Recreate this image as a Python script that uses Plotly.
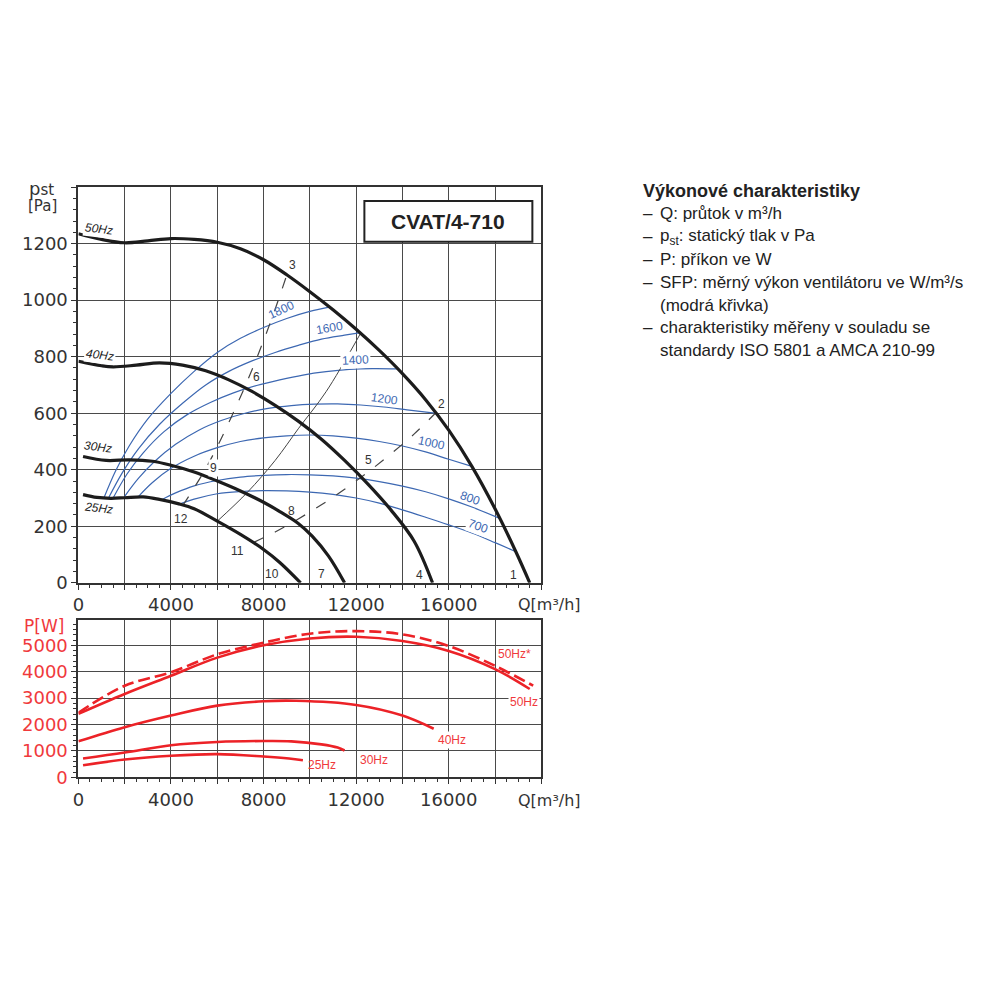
import plotly.graph_objects as go

# --- fan curves, static pressure [Pa] vs Q [m3/h] ---
q50 = [0, 1000, 2000, 3000, 4000, 5000, 6000, 7000, 8000, 9000, 10000, 11000, 12000, 13000, 14000, 15000, 16000, 17000, 18000, 18900, 19500]
p50 = [1235, 1215, 1203, 1210, 1218, 1215, 1205, 1182, 1143, 1090, 1030, 966, 897, 822, 740, 648, 540, 412, 262, 110, 0]
q40 = [0, 1000, 1500, 2500, 3500, 4500, 5500, 6500, 7500, 8500, 9500, 10500, 11500, 12500, 13500, 14500, 15300]
p40 = [784, 768, 764, 770, 778, 770, 750, 718, 677, 628, 572, 508, 433, 350, 258, 148, 0]
q30 = [200, 1200, 2200, 3200, 4000, 5000, 6000, 7000, 8000, 8700, 9500, 10100, 10800, 11500]
p30 = [447, 433, 435, 430, 416, 392, 360, 325, 285, 252, 210, 165, 95, 0]
q25 = [200, 800, 1400, 2000, 2800, 3500, 4300, 5000, 6000, 7000, 8000, 8700, 9600]
p25 = [312, 302, 299, 301, 304, 295, 280, 262, 218, 171, 118, 72, 0]
fan_names = ["50Hz", "40Hz", "30Hz", "25Hz"]

# --- SFP curves (blue) ---
sfp_q = {
    "1800": [1100, 1600, 2200, 3000, 4000, 5000, 6000, 7000, 8000, 9000, 10000, 10900],
    "1600": [1300, 1900, 2600, 3500, 4500, 5500, 6500, 7500, 8500, 9500, 10500, 11500, 12200],
    "1400": [1500, 2100, 2800, 3700, 4700, 5700, 6700, 7700, 8700, 9700, 10700, 11700, 12700, 13800],
    "1200": [2000, 2600, 3300, 4200, 5200, 6200, 7200, 8200, 9200, 10200, 11200, 12200, 13200, 14200, 15400],
    "1000": [2600, 3200, 4000, 5000, 6000, 7000, 8000, 9000, 10000, 11000, 12000, 13000, 14000, 15000, 16000, 17000],
    "800": [3600, 4200, 5000, 6000, 7000, 8000, 9000, 10000, 11000, 12000, 13000, 14000, 15000, 16000, 17000, 18200],
    "700": [4300, 5000, 6000, 7000, 8000, 9000, 10000, 11000, 12000, 13000, 14000, 15000, 16000, 17000, 18000, 18900],
}
sfp_p = {
    "1800": [300, 395, 485, 580, 670, 748, 815, 865, 903, 935, 960, 976],
    "1600": [300, 390, 475, 560, 635, 700, 748, 785, 815, 840, 862, 876, 885],
    "1400": [300, 385, 460, 535, 595, 638, 672, 698, 718, 735, 747, 755, 758, 757],
    "1200": [306, 370, 430, 490, 540, 575, 600, 617, 627, 632, 633, 629, 622, 612, 600],
    "1000": [306, 355, 405, 448, 478, 500, 513, 520, 523, 520, 512, 500, 484, 463, 437, 412],
    "800": [294, 318, 343, 362, 374, 380, 383, 382, 378, 370, 358, 342, 322, 297, 268, 228],
    "700": [276, 296, 315, 323, 326, 325, 321, 313, 300, 282, 258, 232, 205, 176, 142, 110],
}

# --- system lines (gray) ---
sysA_q = [4500, 5400, 6000, 6600, 7200, 7800, 8400, 9000]
sysA_p = [272, 390, 482, 585, 695, 815, 945, 1088]
sysB_q = [6000, 7300, 8500, 9500, 10700, 12200]
sysB_p = [218, 320, 433, 545, 676, 884]
sysC_q = [7550, 8500, 9500, 10500, 11500, 12500, 13500, 14500, 15400]
sysC_p = [142, 180, 226, 276, 331, 391, 456, 526, 598]

# --- power consumption [W] ---
P50_q = [0, 2000, 4000, 6000, 8000, 10000, 12000, 14000, 16000, 18000, 19500]
P50 = [2406, 3158, 3846, 4534, 5000, 5260, 5323, 5162, 4786, 4098, 3346]
P50s_q = [0, 2000, 4000, 6000, 8000, 10000, 12000, 14000, 16000, 18000, 19650]
P50s = [2450, 3470, 3980, 4660, 5100, 5440, 5538, 5413, 4974, 4222, 3470]
P40_q = [0, 2000, 4000, 6000, 8000, 9400, 12000, 14000, 15350]
P40 = [1365, 1902, 2343, 2718, 2882, 2900, 2744, 2342, 1842]
P30_q = [200, 2000, 4000, 6000, 8000, 9200, 10500, 11200, 11500]
P30 = [714, 940, 1215, 1340, 1378, 1365, 1250, 1130, 1020]
P25_q = [200, 2000, 4000, 6000, 8000, 9100, 9700]
P25 = [462, 677, 820, 883, 790, 714, 650]

# point numbers on the pressure chart
pt_labels = ["1", "2", "3", "4", "5", "6", "7", "8", "9", "10", "11", "12"]
pt_q = [18800, 15670, 9240, 14730, 12550, 7700, 10490, 9200, 5820, 8350, 6890, 4440]
pt_p = [27, 634, 1124, 27, 436, 729, 30, 253, 405, 30, 111, 224]

sfp_lab_q = [8760, 10830, 11950, 13230, 15260, 16900, 17260]
sfp_lab_p = [964, 902, 790, 652, 494, 300, 200]
sfp_lab_ang = [-25, -10, -3, 8, 12, 20, 20]

hz_lab_q = [900, 950, 850, 850]
hz_lab_p = [1252, 807, 481, 264]

pw_labels = ["50Hz*", "50Hz", "40Hz", "30Hz", "25Hz"]
pw_lab_q = [18830, 19240, 16140, 12780, 10530]
pw_lab_P = [4660, 2840, 1400, 650, 460]

xticks = list(range(0, 20001, 2000))
xtext = ["0", "", "4000", "", "8000", "", "12000", "", "16000", "", ""]

BLUE = "#3d68b2"
RED = "#ec2227"
RED_TXT = "#f0393c"
DARK = "#1c1c1c"
GRID = "#4a4a4a"
TICKF = dict(family="DejaVu Sans", size=18, color="#333333")

# page offset / scale of the rendered figure
OX, OY, KY = 12.5, 4.0, 0.995


def px(x):
    return (x - OX) / 1000


def py(y):
    return 1 - (y - OY) / KY / 1000


fig = go.Figure()

for name in sfp_q:
    fig.add_trace(go.Scatter(x=sfp_q[name], y=sfp_p[name], mode="lines", line_shape="spline",
                             line=dict(color=BLUE, width=1.2), xaxis="x", yaxis="y"))

fig.add_trace(go.Scatter(x=sysA_q, y=sysA_p, mode="lines", line_shape="spline",
                         line=dict(color="#444", width=1.2, dash="11px,13px")))
fig.add_trace(go.Scatter(x=sysB_q, y=sysB_p, mode="lines", line_shape="spline",
                         line=dict(color="#444", width=1)))
fig.add_trace(go.Scatter(x=sysC_q, y=sysC_p, mode="lines", line_shape="spline",
                         line=dict(color="#444", width=1.2, dash="11px,13px")))

for qq, pp in [(q50, p50), (q40, p40), (q30, p30), (q25, p25)]:
    fig.add_trace(go.Scatter(x=qq, y=pp, mode="lines", line_shape="spline",
                             line=dict(color=DARK, width=3.2)))

# power curves
for qq, pp, dash in [(P50s_q, P50s, "12px,5px"), (P50_q, P50, "solid"), (P40_q, P40, "solid"),
                     (P30_q, P30, "solid"), (P25_q, P25, "solid")]:
    fig.add_trace(go.Scatter(x=qq, y=pp, mode="lines", line_shape="spline",
                             line=dict(color=RED, width=2.6, dash=dash), xaxis="x2", yaxis="y2"))

ann = []
for t, x, y in zip(pt_labels, pt_q, pt_p):
    ann.append(dict(x=x, y=y, xref="x", yref="y", text=t, showarrow=False,
                    font=dict(family="Liberation Sans", size=12, color="#333"),
                    bgcolor="white" if t == "9" else None))
for t, x, y, a in zip(sfp_q.keys(), sfp_lab_q, sfp_lab_p, sfp_lab_ang):
    ann.append(dict(x=x, y=y, xref="x", yref="y", text=t, showarrow=False, textangle=a,
                    font=dict(family="Liberation Sans", size=12, color=BLUE),
                    bgcolor="white" if t in ("1400", "700") else None))
for t, x, y in zip(fan_names, hz_lab_q, hz_lab_p):
    ann.append(dict(x=x, y=y, xref="x", yref="y", text="<i>" + t + "</i>", showarrow=False,
                    textangle=7,
                    font=dict(family="Liberation Sans", size=12, color="#222"),
                    bgcolor="white" if t in ("50Hz", "40Hz") else None))
for t, x, y in zip(pw_labels, pw_lab_q, pw_lab_P):
    ann.append(dict(x=x, y=y, xref="x2", yref="y2", text=t, showarrow=False,
                    font=dict(family="Liberation Sans", size=12, color=RED_TXT),
                    bgcolor="white" if t in ("50Hz", "40Hz") else None))

# axis titles
ann.append(dict(x=px(26), y=py(185), xref="paper", yref="paper", text="p<span style='font-size:15px'>st</span>",
                showarrow=False, xanchor="left", yanchor="middle",
                font=dict(family="DejaVu Sans", size=18, color="#333")))
ann.append(dict(x=px(25), y=py(203), xref="paper", yref="paper", text="[Pa]",
                showarrow=False, xanchor="left", yanchor="middle",
                font=dict(family="DejaVu Sans", size=15, color="#333")))
ann.append(dict(x=px(21), y=py(625), xref="paper", yref="paper", text="P[W]",
                showarrow=False, xanchor="left", yanchor="middle",
                font=dict(family="DejaVu Sans", size=17, color=RED_TXT)))
for yy in (604, 800):
    ann.append(dict(x=px(518), y=py(yy), xref="paper", yref="paper", text="Q[m³/h]",
                    showarrow=False, xanchor="left", yanchor="middle",
                    font=dict(family="DejaVu Sans", size=16, color="#333")))

# model name box
ann.append(dict(x=px(449.5), y=py(218.5), xref="paper", yref="paper", text="<b>CVAT/4-710</b>",
                showarrow=False, xanchor="center", yanchor="middle",
                font=dict(family="Liberation Sans", size=21, color="#222")))

# description text on the right
desc = [
    ("<b>Výkonové charakteristiky</b>", False),
    ("Q: průtok v m³/h", True),
    ("p<sub>st</sub>: statický tlak v Pa", True),
    ("P: příkon ve W", True),
    ("SFP: měrný výkon ventilátoru ve W/m³/s", True),
    ("(modrá křivka)", False),
    ("charakteristiky měřeny v souladu se", True),
    ("standardy ISO 5801 a AMCA 210-99", False),
]
for i, (t, dash) in enumerate(desc):
    yy = py(188 + i * 22.9)
    tx = px(643) if i == 0 else px(660)
    ann.append(dict(x=tx, y=yy, xref="paper", yref="paper", text=t, showarrow=False,
                    xanchor="left", yanchor="middle",
                    font=dict(family="Liberation Sans", size=18 if i == 0 else 17, color="#222")))
    if dash:
        ann.append(dict(x=px(643), y=yy, xref="paper", yref="paper", text="–", showarrow=False,
                        xanchor="left", yanchor="middle",
                        font=dict(family="Liberation Sans", size=17, color="#222")))

shapes = [dict(type="rect", xref="paper", yref="paper", x0=px(365), x1=px(534), y0=py(239), y1=py(198),
               fillcolor="white", line=dict(color="#222", width=2), layer="above")]

axis_common = dict(showline=True, mirror=True, linecolor="#333", linewidth=2, showgrid=True,
                   gridcolor=GRID, gridwidth=1, zeroline=False, ticks="outside", ticklen=5,
                   tickcolor="#333", tickfont=TICKF)

xdom = [px(77.3), px(543)]

fig.update_layout(
    width=1000, height=1000, autosize=False,
    margin=dict(l=0, r=0, t=0, b=0),
    paper_bgcolor="white", plot_bgcolor="white", showlegend=False,
    xaxis=dict(domain=xdom, range=[0, 20000], tickvals=xticks, ticktext=xtext,
               minor=dict(dtick=500, ticks="outside", ticklen=3, tickcolor="#333", showgrid=False),
               anchor="y", **axis_common),
    yaxis=dict(domain=[py(581.7), py(184)], range=[0, 1400], tickvals=list(range(0, 1401, 200)),
               ticktext=["0", "200", "400", "600", "800", "1000", "1200", ""],
               minor=dict(dtick=40, ticks="outside", ticklen=3, tickcolor="#333", showgrid=False),
               anchor="x", **axis_common),
    xaxis2=dict(domain=xdom, range=[0, 20000], tickvals=xticks, ticktext=xtext,
                minor=dict(dtick=500, ticks="outside", ticklen=3, tickcolor="#333", showgrid=False),
                anchor="y2", **axis_common),
    yaxis2=dict(domain=[py(777.3), py(619.3)], range=[0, 5950], tickvals=list(range(0, 5001, 1000)),
                minor=dict(dtick=200, ticks="outside", ticklen=3, tickcolor="#333", showgrid=False),
                anchor="x2", **{**axis_common, "tickfont": dict(family="DejaVu Sans", size=18, color=RED_TXT)}),
    annotations=ann,
    shapes=shapes,
)

fig.write_html("out.html")
